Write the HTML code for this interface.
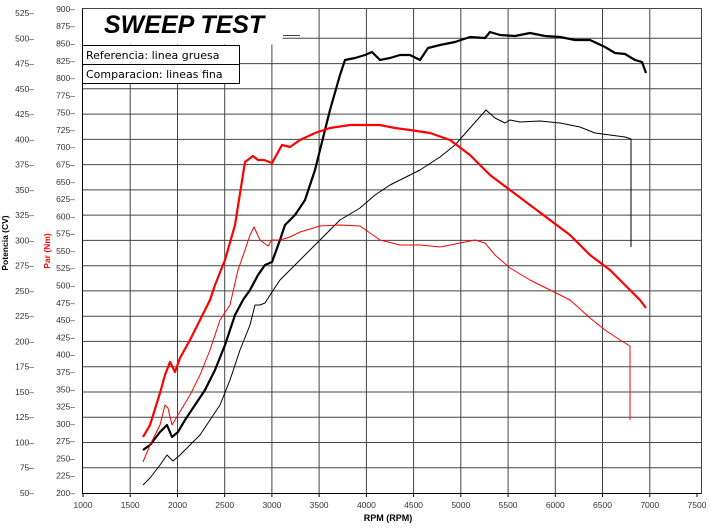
<!DOCTYPE html>
<html><head><meta charset="utf-8"><style>
html,body{margin:0;padding:0;background:#fff;}
svg{display:block;font-family:"Liberation Sans",sans-serif;}
</style></head><body>
<svg width="710" height="528" viewBox="0 0 710 528" xmlns="http://www.w3.org/2000/svg">
<rect width="710" height="528" fill="#fff"/>
<g id="grid" stroke="#444" stroke-width="1"></g>
<g id="labels" font-size="8.5" fill="#333"></g>
<rect x="82.5" y="8.5" width="200" height="36" fill="#fff"/>
<line x1="82" y1="8.5" x2="702" y2="8.5" stroke="#444"/>
<line x1="283" y1="35.5" x2="300" y2="35.5" stroke="#444"/>
<text x="104" y="33" font-size="25" font-weight="bold" font-style="italic">SWEEP TEST</text>
<rect x="82.5" y="45.5" width="157" height="19" fill="#fff" stroke="#000"/>
<rect x="82.5" y="64.5" width="157" height="19" fill="#fff" stroke="#000"/>
<text x="86" y="59" font-size="11" font-family="DejaVu Sans, sans-serif">Referencia: linea gruesa</text>
<text x="86" y="78" font-size="11" font-family="DejaVu Sans, sans-serif">Comparacion: lineas fina</text>
<line x1="82.5" y1="9" x2="82.5" y2="494" stroke="#000"/>
<line x1="82" y1="493.5" x2="702" y2="493.5" stroke="#000"/>
<line x1="701.5" y1="9" x2="701.5" y2="494" stroke="#444"/>
<g fill="none" stroke-linejoin="round">
<polyline stroke="#000" stroke-width="2.2" points="143,450 150,445 160,432 167,425 172,437 178,432 185,420 195,405 205,390 215,370 225,345 235,315 243,300 250,290 258,275 265,265 272,262 280,240 285,225 295,215 305,200 315,170 320,150 330,110 340,75 345,60 355,58 365,55 372,52 380,60 390,58 400,55 410,55 420,60 428,48 440,45 455,42 470,37 485,38 490,32 500,35 515,36 530,33 545,36 560,37 575,40 590,40 605,47 615,53 625,54 635,60 642,62 646,73"/>
<polyline stroke="#000" stroke-width="1" points="143,485 150,478 160,465 167,455 173,461 180,455 190,445 200,435 210,420 220,405 230,380 240,350 250,325 255,305 260,305 265,303 272,292 280,280 285,275 295,265 310,250 320,240 330,230 340,220 360,208 375,195 390,185 400,180 420,170 440,157 455,145 470,128 486,110 495,118 505,123 510,120 520,122 540,121 560,123 580,127 595,133 610,135 625,137 631,139 631,247"/>
<polyline stroke="#f00" stroke-width="2.2" points="143,437 150,425 160,393 165,375 170,362 175,372 180,358 190,340 200,320 210,300 215,285 225,260 235,225 245,162 253,156 258,160 264,160 272,163 282,145 290,147 300,140 315,133 330,128 350,125 365,125 380,125 395,128 410,130 430,133 450,140 470,155 490,175 510,190 530,205 550,220 570,235 590,255 610,270 630,290 640,300 646,308"/>
<polyline stroke="#f00" stroke-width="1" points="143,462 150,445 160,425 165,405 168,408 172,425 178,415 190,395 200,375 210,350 220,320 230,305 238,270 245,250 250,235 254,227 260,240 268,246 272,240 280,240 290,237 300,232 320,226 340,225 360,226 380,240 400,245 420,245 440,247 460,243 475,240 485,243 495,255 510,268 530,280 550,290 570,300 590,318 605,330 620,340 630,346 630,420"/>
</g>
<text x="388" y="521" font-size="9" font-weight="bold" text-anchor="middle">RPM (RPM)</text>
<text transform="translate(8,243) rotate(-90)" font-size="8.5" font-weight="bold" text-anchor="middle">Potencia (CV)</text>
<text transform="translate(50,251) rotate(-90)" font-size="8.5" font-weight="bold" fill="#f00" text-anchor="middle">Par (Nm)</text>
<script>
var g=document.getElementById('grid'),L=document.getElementById('labels'),ns='http://www.w3.org/2000/svg';
function el(p,t,a,txt){var e=document.createElementNS(ns,t);for(var k in a)e.setAttribute(k,a[k]);if(txt)e.textContent=txt;p.appendChild(e);}
for(var i=0;i<=13;i++){var x=83+i*47.23;if(i>0&&i<13)el(g,'line',{x1:x.toFixed(1),y1:9,x2:x.toFixed(1),y2:493});
el(L,'line',{x1:x.toFixed(1),y1:493,x2:x.toFixed(1),y2:497,stroke:'#000'});
el(L,'text',{x:x.toFixed(1),y:508,'text-anchor':'middle'},String(1000+i*500));}
for(var k=0;k<=19;k++){var y=493-k*25.26;if(k>0&&k<19)el(g,'line',{x1:83,y1:y.toFixed(1),x2:701,y2:y.toFixed(1)});
el(L,'text',{x:34,y:(y+3).toFixed(1),'text-anchor':'end'},String(50+k*25)+'–');}
for(var k=0;k<=28;k++){var y=493-k*17.29;el(L,'text',{x:75,y:(y+3).toFixed(1),'text-anchor':'end'},String(200+k*25)+'–');}
</script>
</svg>
</body></html>
